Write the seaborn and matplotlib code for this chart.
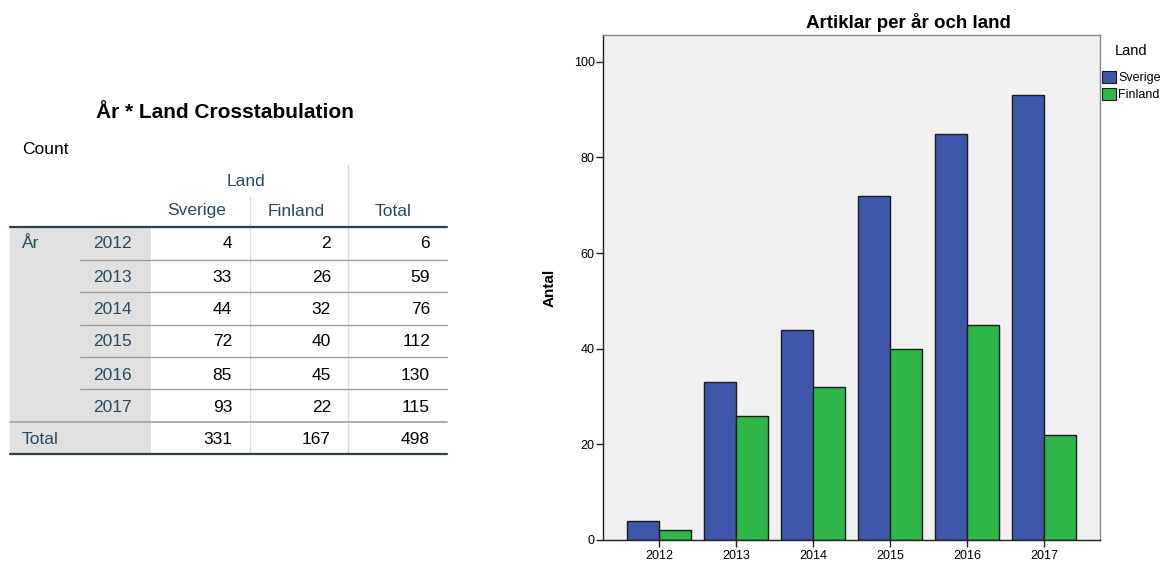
import matplotlib
matplotlib.use("Agg")
import matplotlib.pyplot as plt
import seaborn as sns
import pandas as pd
from matplotlib.patches import Patch, Rectangle

years = ["2012", "2013", "2014", "2015", "2016", "2017"]
sverige = [4, 33, 44, 72, 85, 93]
finland = [2, 26, 32, 40, 45, 22]
countries = ["Sverige", "Finland"]
colors = ["#3e57ab", "#2eb748"]
yticks = [0, 20, 40, 60, 80, 100]

sns.set_theme(style="white")
plt.rcParams['font.family'] = ['Liberation Sans', 'DejaVu Sans']
plt.rcParams['text.color'] = 'black'
plt.rcParams['axes.labelcolor'] = 'black'
plt.rcParams['xtick.color'] = 'black'
plt.rcParams['ytick.color'] = 'black'

fig = plt.figure(figsize=(11.69, 5.66), dpi=100)

# ---------------- Chart ----------------
df = pd.DataFrame({
    "År": years * 2,
    "Antal": sverige + finland,
    "Land": [countries[0]] * len(years) + [countries[1]] * len(years),
})
W, H = 1169, 566
ax = fig.add_axes([603 / W, (H - 540) / H, (1100 - 603) / W, (540 - 35) / H])
sns.barplot(data=df, x="År", y="Antal", hue="Land", palette=colors,
            width=0.83, edgecolor="#1a1a1a", linewidth=1.0, ax=ax,
            saturation=1, legend=False)
ax.set_facecolor("#f0f0f0")
ax.set_xlim(-0.727, len(years) - 1 + 0.727)
ax.set_ylim(0, 105.6)
ax.set_yticks(yticks)
ax.set_yticklabels([str(t) for t in yticks], fontsize=9)
ax.tick_params(axis="x", labelsize=9, length=5, width=1, color="#222222", direction="out", bottom=True, pad=2)
ax.tick_params(axis="y", labelsize=9, length=5, width=1, color="#222222", direction="out", left=True, pad=1)
ax.set_xlabel("")
ax.set_ylabel("Antal", fontsize=11, fontweight="bold", labelpad=12)
for s in ["left", "bottom"]:
    ax.spines[s].set_color("#222222")
    ax.spines[s].set_linewidth(1.0)
for s in ["top", "right"]:
    ax.spines[s].set_color("#888888")
    ax.spines[s].set_linewidth(1.0)

fig.text(908 / W, 1 - 22 / H, "Artiklar per år och land", ha="center", va="center",
         fontsize=13.5, fontweight="bold")

handles = [Patch(facecolor=c, edgecolor="#1a1a1a", linewidth=0.8) for c in colors]
leg = fig.legend(handles, countries, title="Land", loc="upper left",
                 bbox_to_anchor=(1102 / W, 1 - 44 / H), frameon=False,
                 fontsize=9, title_fontsize=10.5, handlelength=1.1, handleheight=1.1,
                 handletextpad=0.2, labelspacing=0.3, borderpad=0, borderaxespad=0)
leg._legend_box.align = "left"
leg._legend_box.sep = 9
leg.get_title().set_position((13, 0))

# ---------------- Table ----------------
tx = fig.add_axes([0, 0, 1, 1], zorder=-1)
tx.set_xlim(0, W)
tx.set_ylim(H, 0)
tx.axis("off")

hdr = "#264a60"
fs = 12.5
tx.text(225, 112, "År * Land Crosstabulation", ha="center", va="center",
        fontsize=15, fontweight="bold", color="#000000")
tx.text(22, 149, "Count", ha="left", va="center", fontsize=fs, color="#000000")

tx.add_patch(Rectangle((10, 227), 141, 227, facecolor="#e0e0e0", edgecolor="none"))

tx.text(246, 181, "Land", ha="center", va="center", fontsize=fs, color=hdr)
tx.text(197, 211, countries[0], ha="center", va="center", fontsize=fs, color=hdr)
tx.text(296, 211, countries[1], ha="center", va="center", fontsize=fs, color=hdr)
tx.text(393, 212, "Total", ha="center", va="center", fontsize=fs, color=hdr)

# vertical separators
tx.plot([250, 250], [197, 454], color="#d8d8d8", lw=1)
tx.plot([348, 348], [165, 454], color="#d8d8d8", lw=1)

row_y = [244, 277, 310, 342, 375, 407]
row_lines = [260, 292, 325, 357, 389]
for y in row_lines:
    tx.plot([80, 447], [y, y], color="#a0a0a0", lw=1)
tx.plot([10, 447], [422, 422], color="#a0a0a0", lw=1.2)
tx.plot([10, 447], [227, 227], color="#2a3f4f", lw=1.6)
tx.plot([10, 447], [454, 454], color="#2a3f4f", lw=1.6)

tx.text(22, 244, "År", ha="left", va="center", fontsize=fs, color=hdr)
for y, yr, s, f in zip(row_y, years, sverige, finland):
    tx.text(112, y, yr, ha="center", va="center", fontsize=fs, color=hdr)
    tx.text(232, y, str(s), ha="right", va="center", fontsize=fs, color="#000000")
    tx.text(331, y, str(f), ha="right", va="center", fontsize=fs, color="#000000")
    tx.text(430, y, str(s + f), ha="right", va="center", fontsize=fs, color="#000000")

tx.text(22, 439, "Total", ha="left", va="center", fontsize=fs, color=hdr)
tot_s, tot_f = sum(sverige), sum(finland)
tx.text(232, 439, str(tot_s), ha="right", va="center", fontsize=fs, color="#000000")
tx.text(331, 439, str(tot_f), ha="right", va="center", fontsize=fs, color="#000000")
tx.text(430, 439, str(tot_s + tot_f), ha="right", va="center", fontsize=fs, color="#000000")

fig.savefig("out.png", dpi=100, facecolor="white")
